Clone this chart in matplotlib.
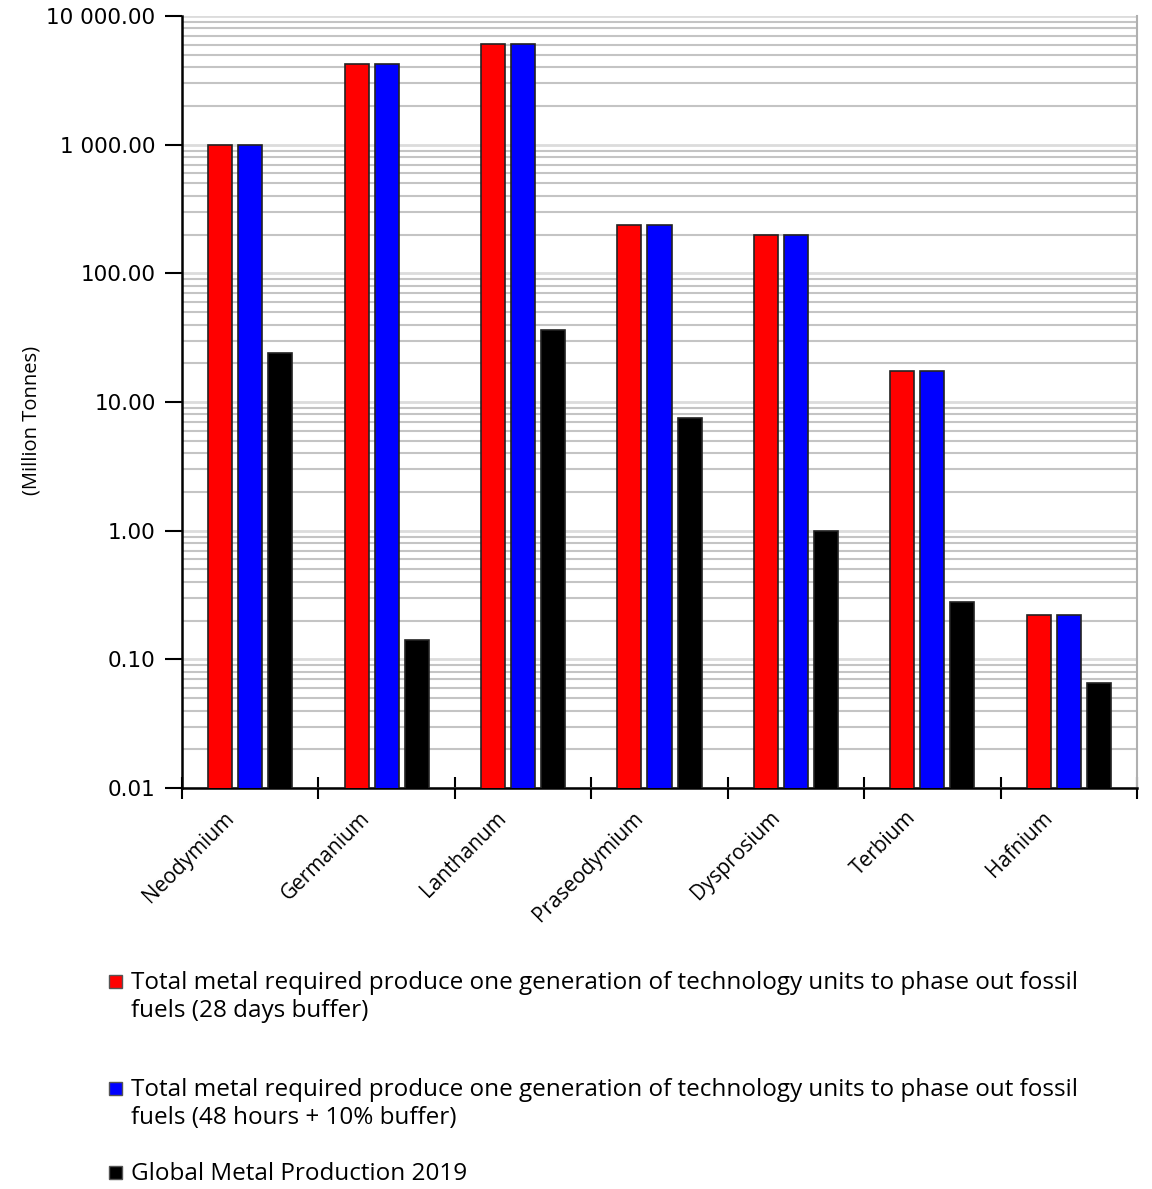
import numpy as np
import matplotlib
matplotlib.use("Agg")
import matplotlib.pyplot as plt
import matplotlib.transforms as mtransforms
from matplotlib.ticker import FixedLocator, FuncFormatter, LogLocator
from matplotlib.patches import Rectangle

# data (million tonnes, log axis)
metals = ["Neodymium", "Germanium", "Lanthanum", "Praseodymium", "Dysprosium", "Terbium", "Hafnium"]
req_28days = [995, 4240, 6050, 238, 199, 17.3, 0.222]
req_48hours = [995, 4240, 6050, 238, 199, 17.3, 0.222]
production_2019 = [24, 0.142, 36, 7.5, 1.0, 0.28, 0.066]

series_labels = [
    "Total metal required produce one generation of technology units to phase out fossil\nfuels (28 days buffer)",
    "Total metal required produce one generation of technology units to phase out fossil\nfuels (48 hours + 10% buffer)",
    "Global Metal Production 2019",
]
series_colors = ["#ff0000", "#0000ff", "#000000"]

fig = plt.figure(figsize=(11.52, 11.89), dpi=100)
ax = fig.add_axes([182/1152, 1 - 788/1189, (1137-182)/1152, (788-16)/1189])

x = np.arange(len(metals))
w = 0.176
offs = [-0.22, 0.0, 0.22]
for vals, col, off in zip([req_28days, req_48hours, production_2019], series_colors, offs):
    ax.bar(x + off, vals, width=w, color=col, edgecolor="#222222", linewidth=1.2, zorder=3)

ax.set_yscale("log")
ax.set_ylim(0.01, 10000)
ax.set_xlim(-0.5, len(metals) - 0.5)

# grid: minor lines darker, decades lighter
ax.yaxis.set_minor_locator(LogLocator(base=10, subs=np.arange(2, 10)))
ax.grid(axis="y", which="minor", color="#c4c4c4", linewidth=1.5, zorder=0)
ax.grid(axis="y", which="major", color="#dcdcdc", linewidth=2.0, zorder=0)
ax.tick_params(axis="y", which="minor", length=0)

def fmt(v, pos):
    s = f"{v:,.2f}".replace(",", " ")
    return s
ax.yaxis.set_major_locator(FixedLocator([0.01, 0.1, 1, 10, 100, 1000, 10000]))
ax.yaxis.set_major_formatter(FuncFormatter(fmt))
ax.tick_params(axis="y", which="major", length=12, width=1.5, direction="out",
               labelsize=15.5, pad=7)
for lab in ax.get_yticklabels():
    lab.set_fontfamily("DejaVu Sans")

# x ticks at category boundaries, category names at centres
ax.set_xticks(np.arange(-0.5, len(metals), 1.0))
ax.set_xticklabels([])
ax.tick_params(axis="x", which="major", direction="inout", length=16, width=1.5)
ax.set_xticks(x, minor=True)
ax.set_xticklabels(metals, minor=True, rotation=45, ha="right", rotation_mode="anchor",
                   fontsize=15, fontfamily="Open Sans")
ax.tick_params(axis="x", which="minor", length=0, pad=14)
shift = mtransforms.ScaledTranslation(-27/100, 0, fig.dpi_scale_trans)
for lab in ax.get_xticklabels(minor=True):
    lab.set_transform(lab.get_transform() + shift)

for side in ["left", "bottom"]:
    ax.spines[side].set_linewidth(1.8)
    ax.spines[side].set_color("black")
ax.spines["right"].set_color("#b0b0b0")
ax.spines["right"].set_linewidth(1.5)
ax.spines["top"].set_visible(False)

fig.text(32/1152, 1 - 420/1189, "(Million Tonnes)", rotation=90, ha="center", va="center",
         fontsize=14.5, fontfamily="Open Sans")

# legend drawn below, one entry per series, one text line at a time
base_ys = [989, 1096, 1180]
for lab, col, yy in zip(series_labels, series_colors, base_ys):
    fig.patches.append(Rectangle((109/1152, 1 - (yy - 1)/1189), 13/1152, 13/1189,
                                 transform=fig.transFigure, facecolor=col,
                                 edgecolor="#555555", linewidth=1))
    for i, line in enumerate(lab.split("\n")):
        fig.text(131/1152, 1 - (yy + i * 28)/1189, line, ha="left", va="baseline",
                 fontsize=17.5, fontfamily="Open Sans")

fig.savefig("out.png", dpi=100)
